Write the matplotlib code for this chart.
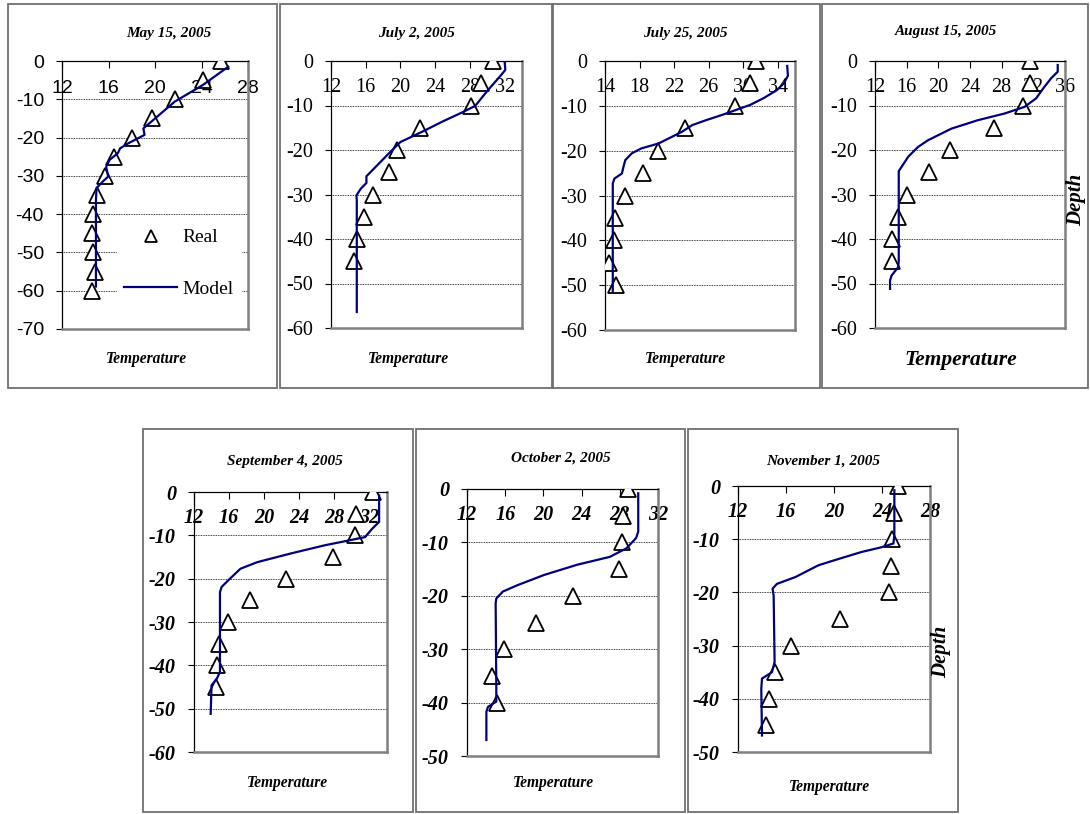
import matplotlib
matplotlib.use('Agg')
import matplotlib.pyplot as plt
from matplotlib.patches import Rectangle
from matplotlib.font_manager import FontProperties

plt.rcParams['axes.unicode_minus'] = False

W, H = 1090, 814

titles = ['May 15, 2005', 'July 2, 2005', 'July 25, 2005', 'August 15, 2005',
          'September 4, 2005', 'October 2, 2005', 'November 1, 2005']

# measured profiles (triangles)
may_real_d = [0, -5, -10, -15, -20, -25, -30, -35, -40, -45, -50, -55, -60]
may_real_t = [25.7, 24.1, 21.75, 19.7, 18.0, 16.5, 15.7, 15.0, 14.7, 14.6, 14.7, 14.8, 14.6]
jul2_real_d = [0, -5, -10, -15, -20, -25, -30, -35, -40, -45]
jul2_real_t = [30.7, 29.3, 28.1, 22.3, 19.6, 18.7, 16.8, 15.8, 15.0, 14.7]
jul25_real_d = [0, -5, -10, -15, -20, -25, -30, -35, -40, -45, -50]
jul25_real_t = [31.45, 30.8, 29.0, 23.3, 20.1, 18.35, 16.35, 15.2, 15.0, 14.5, 15.3]
aug_real_d = [0, -5, -10, -15, -20, -25, -30, -35, -40, -45]
aug_real_t = [31.55, 31.55, 30.7, 27.0, 21.5, 18.8, 16.1, 14.85, 14.2, 14.2]
sep_real_d = [0, -5, -10, -15, -20, -25, -30, -35, -40, -45]
sep_real_t = [32.4, 30.5, 30.3, 27.9, 22.5, 18.4, 15.9, 14.8, 14.65, 14.5]
oct_real_d = [0, -5, -10, -15, -20, -25, -30, -35, -40]
oct_real_t = [28.9, 28.3, 28.2, 27.9, 23.1, 19.2, 15.9, 14.65, 15.1]
nov_real_d = [0, -5, -10, -15, -20, -25, -30, -35, -40, -45]
nov_real_t = [25.37, 25.03, 24.8, 24.75, 24.6, 20.5, 16.4, 15.05, 14.55, 14.3]

# model profiles (lines)
may_model_t = [26.3, 24.1, 21.7, 19.7, 19.0, 19.1, 18.4, 17.7, 17.0, 16.8, 16.1, 15.8,
               15.97, 15.5, 14.97, 14.92, 14.92]
may_model_d = [-1.5, -6.3, -10.6, -15.8, -17.6, -19.3, -20.4, -21.5, -22.8, -24.1, -25.8,
               -27.6, -30.2, -31.5, -33.2, -36.3, -58.9]
jul2_model_t = [32.0, 32.08, 31.6, 30.1, 28.6, 27.05, 24.8, 22.5, 20.0, 19.05, 17.14,
                16.08, 16.08, 15.43, 14.93, 14.97, 14.97]
jul2_model_d = [-0.15, -2.0, -3.15, -6.5, -10.1, -11.6, -13.65, -15.9, -18.2, -20.0,
                -23.8, -25.9, -27.4, -28.7, -30.2, -31.3, -56.4]
jul25_model_t = [35.1, 35.18, 34.7, 33.9, 32.35, 30.8, 29.2, 27.6, 25.7, 24.1, 22.9,
                 20.2, 18.2, 17.1, 16.35, 16.1, 15.96, 15.1, 14.9, 14.9]
jul25_model_d = [-1.1, -3.3, -5.0, -6.5, -8.3, -9.8, -10.9, -12.0, -13.2, -14.3, -15.8,
                 -18.4, -19.5, -20.6, -22.1, -23.9, -25.1, -26.2, -27.3, -51.4]
aug_model_t = [35.08, 35.08, 34.24, 33.4, 32.35, 30.9, 28.37, 25.0, 21.65, 18.7, 17.45,
               16.2, 15.0, 15.0, 14.94, 14.1, 13.9, 13.9]
aug_model_d = [-0.9, -2.4, -3.9, -5.8, -8.4, -10.3, -11.8, -13.3, -15.2, -17.8, -19.3,
               -21.5, -24.75, -44.8, -46.3, -48.2, -49.3, -51.2]
sep_model_t = [33.1, 33.1, 32.3, 31.5, 29.6, 26.9, 23.0, 19.2, 17.3, 16.1, 15.15, 14.96,
               14.96, 14.6, 14.0, 13.9]
sep_model_d = [-0.8, -6.9, -8.5, -10.4, -11.2, -12.3, -14.2, -16.2, -17.7, -20.0, -21.9,
               -23.1, -41.5, -43.1, -44.6, -51.2]
oct_model_t = [29.93, 29.93, 29.7, 28.7, 26.97, 23.5, 20.07, 17.3, 15.76, 15.07, 15.0,
               15.07, 15.07, 14.2, 14.03, 14.03]
oct_model_d = [-0.8, -8.0, -9.2, -11.1, -12.7, -14.2, -16.1, -18.0, -19.2, -20.5, -21.4,
               -37.3, -39.8, -40.8, -41.7, -47.0]
nov_model_t = [25.03, 25.03, 24.95, 23.98, 22.3, 20.4, 18.7, 16.8, 15.24, 14.88, 14.97,
               15.05, 14.83, 14.0, 13.94, 14.0]
nov_model_d = [-0.8, -9.3, -10.8, -11.5, -12.4, -13.7, -14.9, -17.1, -18.4, -19.3, -20.6,
               -33.1, -35.0, -36.2, -38.1, -46.9]

real_t = [may_real_t, jul2_real_t, jul25_real_t, aug_real_t, sep_real_t, oct_real_t, nov_real_t]
real_d = [may_real_d, jul2_real_d, jul25_real_d, aug_real_d, sep_real_d, oct_real_d, nov_real_d]
model_t = [may_model_t, jul2_model_t, jul25_model_t, aug_model_t, sep_model_t, oct_model_t, nov_model_t]
model_d = [may_model_d, jul2_model_d, jul25_model_d, aug_model_d, sep_model_d, oct_model_d, nov_model_d]

xlims = [(12, 28), (12, 34), (14, 36), (12, 36), (12, 34), (12, 32), (12, 28)]
ylims = [-70, -60, -60, -60, -60, -50, -50]

# layout in pixels: plot area (x0, x1, y0, y1) and outer frame (x0, y0, x1, y1)
areas = [(62, 248, 61, 329), (331, 522, 61, 328), (605, 795, 61, 330), (875, 1065, 61, 328),
         (194, 387, 492, 752), (467, 658, 489, 756), (738, 930, 486, 752)]
frames = [(8, 4, 277, 388), (280, 4, 552, 388), (553, 4, 820, 388), (822, 4, 1088, 388),
          (143, 429, 413, 812), (416, 429, 685, 812), (688, 429, 958, 812)]
title_xy = [(169, 33), (416, 33), (685, 33), (946, 32), (285, 462), (561, 458), (823, 461)]
temp_xy = [(146, 359), (408, 359), (685, 359), (961, 360), (287, 783), (553, 783), (829, 787)]

SERIF = 'Liberation Serif'
tick_fonts = [FontProperties(family='Liberation Sans', size=14)] + \
             [FontProperties(family=SERIF, size=14.5)] * 3 + \
             [FontProperties(family=SERIF, size=14.5, weight='bold', style='italic')] * 3

fig = plt.figure(figsize=(W / 100, H / 100), dpi=100)


def fx(x):
    return x / W


def fy(y):
    return 1 - y / H


for i in range(7):
    fr = frames[i]
    fig.add_artist(Rectangle((fx(fr[0]), fy(fr[3])), (fr[2] - fr[0]) / W, (fr[3] - fr[1]) / H,
                             transform=fig.transFigure, fill=False, ec='#707070', lw=1.3))

    a = areas[i]
    ax = fig.add_axes([fx(a[0]), fy(a[3]), (a[1] - a[0]) / W, (a[3] - a[2]) / H])
    ax.plot(real_t[i], real_d[i], linestyle='none', marker='^', ms=12, mfc='white',
            mec='black', mew=1.3, label='Real', zorder=3)
    ax.plot(model_t[i], model_d[i], color='#000080', lw=1.6, label='Model', zorder=4)

    ax.set_xlim(*xlims[i])
    ax.set_ylim(ylims[i], 0)
    ax.set_xticks(range(xlims[i][0], xlims[i][1] + 1, 4))
    ax.set_yticks(range(ylims[i], 1, 10))
    ax.yaxis.grid(True, color='black', linestyle=(0, (1, 1)), lw=0.6)
    ax.tick_params(axis='x', top=True, bottom=False, labeltop=True, labelbottom=False,
                   direction='in', length=5, pad=-26, width=0.8)
    ax.tick_params(axis='y', direction='out', length=4, pad=9, width=0.8)
    for lbl in ax.get_xticklabels() + ax.get_yticklabels():
        lbl.set_fontproperties(tick_fonts[i])
    for s in ['left', 'top']:
        ax.spines[s].set_color('black')
        ax.spines[s].set_linewidth(0.9)
    for s in ['right', 'bottom']:
        ax.spines[s].set_color('#808080')
        ax.spines[s].set_linewidth(1.8)

    if i == 0:
        leg = ax.legend(loc='center', bbox_to_anchor=(0.63, 0.245), frameon=True,
                        framealpha=1, edgecolor='none', handlelength=2.7,
                        handletextpad=0.3, labelspacing=1.75, markerscale=0.7,
                        prop=FontProperties(family=SERIF, size=14))

    fig.text(fx(title_xy[i][0]), fy(title_xy[i][1]), titles[i], ha='center', va='center',
             family=SERIF, weight='bold', style='italic', size=11)
    big = (i == 3)
    fig.text(fx(temp_xy[i][0]), fy(temp_xy[i][1]), 'Temperature', ha='center', va='center',
             family=SERIF, weight='bold', style='italic', size=15.5 if big else 11.2)

fig.text(fx(1076), fy(200), 'Depth', rotation=90, ha='center', va='center',
         family=SERIF, weight='bold', style='italic', size=15)
fig.text(fx(941), fy(652), 'Depth', rotation=90, ha='center', va='center',
         family=SERIF, weight='bold', style='italic', size=15)

fig.savefig('out.png', dpi=100)
